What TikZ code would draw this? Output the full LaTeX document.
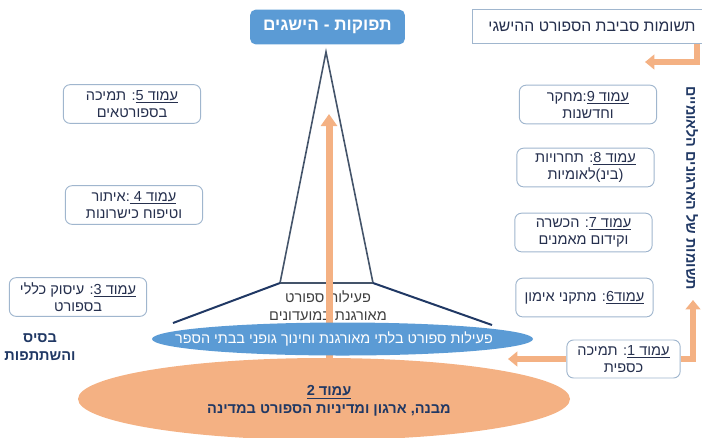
\documentclass[tikz,border=0pt]{standalone}
\usepackage{fontspec}
\usetikzlibrary{arrows.meta}
\newfontfamily\hebfont[Script=Hebrew]{Liberation Sans}
\TeXXeTstate=1
\newcommand{\heb}[1]{\beginR#1\endR}
\newcommand{\ulheb}[1]{$\underline{\hbox{\beginR#1\endR}}$}
\definecolor{blueF}{RGB}{91,155,213}
\definecolor{orangeF}{RGB}{244,177,131}
\definecolor{boxline}{RGB}{160,182,206}
\definecolor{txtc}{RGB}{38,48,78}
\definecolor{navy}{RGB}{32,56,100}
\definecolor{towergray}{RGB}{68,84,106}
\tikzset{
  pillar/.style={draw=boxline, line width=0.7pt, rounded corners=5pt, fill=white,
    minimum width=103pt, minimum height=29pt, align=center, text=txtc, inner sep=2pt,
    font=\hebfont\fontsize{10.9}{12.75}\selectfont},
  boldtext/.style={align=center, text=navy, font=\hebfont\bfseries\fontsize{10.9}{13.5}\selectfont},
  blockarrow/.style={draw=orangeF, line width=4.5pt, -{Triangle[width=11pt,length=7pt]}},
}
\begin{document}
\begin{tikzpicture}[x=0.75pt,y=0.75pt,yscale=-1,xscale=1]
\useasboundingbox (0,0) rectangle (702,437);

% base ellipse
\fill[orangeF] (324,399) ellipse [x radius=246, y radius=41];

% tower
\coordinate (apex) at (326,52);
\coordinate (towerL) at (280,283);
\coordinate (towerR) at (373,283);
\coordinate (flareL) at (173,323);
\coordinate (flareR) at (492,325);
\draw[towergray, line width=1.2pt, line join=miter] (towerL) -- (apex) -- (towerR) -- cycle;
\draw[navy, line width=1.5pt] (flareL) -- (towerL) (towerR) -- (flareR);

\node (clubs) [align=center, text=black!75, font=\hebfont\fontsize{10.9}{13.5}\selectfont] at (328,306)
  {\heb{פעילות ספורט}\\\heb{מאורגנת במועדונים}};

\coordinate (shaftfoot) at (329,377);
\coordinate (shafttip) at (329,114);
\draw[blockarrow, line width=5.25pt, -{Triangle[width=12pt,length=9pt]}] (shaftfoot) -- (shafttip);

% school ellipse
\fill[blueF] (342.5,339) ellipse [x radius=190.5, y radius=16.5];
\node (school) [text=white, font=\hebfont\fontsize{10.8}{12}\selectfont] at (334,339)
  {\heb{פעילות ספורט בלתי מאורגנת וחינוך גופני בבתי הספר}};

\node (policy) [boldtext] at (329,401)
  {\heb{\ulheb{עמוד 2}}\\\heb{מבנה, ארגון ומדיניות הספורט במדינה}};

% top boxes
\node (outputs) [fill=blueF, rounded corners=4pt, minimum width=116pt, minimum height=26pt,
  text=white, font=\hebfont\bfseries\fontsize{12.9}{14}\selectfont] at (327.5,27) {\heb{תפוקות - הישגים}};
\node (inputs) [draw=boxline, line width=0.7pt, fill=white, minimum width=180pt, minimum height=25pt,
  text=txtc, font=\hebfont\fontsize{11.8}{13}\selectfont] at (592,26.5) {\heb{תשומות סביבת הספורט ההישגי}};

% pillars
\node (p5) [pillar] at (132,104) {\heb{\ulheb{עמוד 5}: תמיכה}\\\heb{בספורטאים}};
\node (p4) [pillar] at (134,205) {\heb{\ulheb{עמוד 4 }:איתור}\\\heb{וטיפוח כישרונות}};
\node (p3) [pillar] at (78,297) {\heb{\ulheb{עמוד 3}: עיסוק כללי}\\\heb{בספורט}};
\node (p9) [pillar] at (588,104.5) {\heb{\ulheb{עמוד 9}:מחקר}\\\heb{וחדשנות}};
\node (p8) [pillar] at (585.5,167.5) {\heb{\ulheb{עמוד 8}: תחרויות}\\\heb{(בינ)לאומיות}};
\node (p7) [pillar] at (583.5,232.5) {\heb{\ulheb{עמוד 7}: הכשרה}\\\heb{וקידום מאמנים}};
\node (p6) [pillar] at (584.5,297.5) {\heb{\ulheb{עמוד6}: מתקני אימון}};
\node (p1) [pillar, minimum width=85pt, minimum height=28.5pt] at (623.5,359) {\heb{\ulheb{עמוד 1}: תמיכה}\\\heb{כספית}};

\node (base) [boldtext] at (40,347) {\heb{בסיס}\\\heb{והשתתפות}};
\node (natorgs) [rotate=-90, text=navy, font=\hebfont\bfseries\fontsize{10.8}{12}\selectfont] at (692,188)
  {\heb{תשומות של הארגונים הלאומיים}};

% arrows
\coordinate (inTip) at (645,62);
\coordinate (upTip) at (693,300);
\coordinate (leftTip) at (508,359);
\draw[blockarrow] ([xshift=78.75pt]inputs.south) |- (inTip);
\draw[blockarrow] (p1.east) -| (upTip);
\draw[blockarrow] (p1.west) -- (leftTip);

\end{tikzpicture}
\end{document}
